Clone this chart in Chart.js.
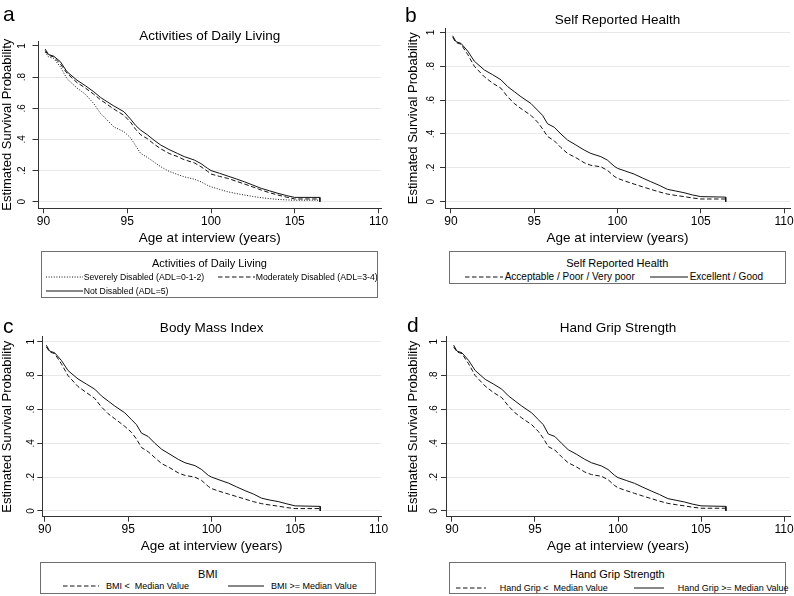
<!DOCTYPE html>
<html>
<head>
<meta charset="utf-8">
<script src="https://cdn.jsdelivr.net/npm/chart.js@4.4.1/dist/chart.umd.min.js"></script>
<style>
  body { margin: 0; background: #fff; font-family: "Liberation Sans", Arial, sans-serif; color: #000; }
  #page { position: relative; width: 794px; height: 596px; overflow: hidden; background: #fff; }
  canvas { position: absolute; }
  .letter { position: absolute; font-size: 21px; line-height: 21px; }
  .legend { position: absolute; border: 1px solid #6f6f6f; box-sizing: border-box; background: #fff; }
  .legend-title { position: absolute; left: 0; right: 0; text-align: center; font-size: 11px; line-height: 12px; }
  .legend-item { position: absolute; display: flex; align-items: center; height: 12px; white-space: pre; }
  .legend-item svg { display: block; }
</style>
</head>
<body>
<div id="page">
  <canvas id="chartA" width="397" height="252" style="left:0;top:0"></canvas>
  <canvas id="chartB" width="397" height="252" style="left:397px;top:0"></canvas>
  <canvas id="chartC" width="397" height="258" style="left:0;top:298px"></canvas>
  <canvas id="chartD" width="397" height="258" style="left:397px;top:298px"></canvas>
</div>
<script>
// ---- data ----
const xTicks = [90, 95, 100, 105, 110];
const yTicks = [0, 0.2, 0.4, 0.6, 0.8, 1];

// a: activities of daily living
const ageA = [90.1, 90.3, 90.6, 91.0, 91.4, 92.0, 92.5, 93.0, 93.4, 93.8, 94.2, 94.8, 95.2, 95.5, 95.8, 96.2, 96.6, 97.0, 97.5, 98.0, 98.4, 99.0, 99.4, 99.8, 100.0, 100.5, 101.0, 101.5, 102.0, 102.5, 103.0, 103.5, 104.0, 104.5, 105.0, 106.5, 106.5];
const adlSevere = [0.96, 0.93, 0.92, 0.867, 0.79, 0.73, 0.69, 0.63, 0.568, 0.525, 0.48, 0.45, 0.41, 0.36, 0.31, 0.285, 0.255, 0.225, 0.195, 0.175, 0.16, 0.145, 0.128, 0.105, 0.096, 0.08, 0.064, 0.053, 0.043, 0.034, 0.026, 0.02, 0.015, 0.012, 0.01, 0.01, 0.01];
const adlModerate = [0.97, 0.94, 0.93, 0.885, 0.825, 0.765, 0.73, 0.69, 0.655, 0.625, 0.595, 0.555, 0.51, 0.465, 0.43, 0.405, 0.37, 0.34, 0.31, 0.29, 0.27, 0.25, 0.225, 0.195, 0.178, 0.163, 0.15, 0.132, 0.114, 0.095, 0.075, 0.058, 0.043, 0.03, 0.018, 0.018, 0.018];
const adlNone = [0.98, 0.945, 0.935, 0.9, 0.835, 0.78, 0.745, 0.706, 0.67, 0.642, 0.615, 0.578, 0.53, 0.49, 0.46, 0.43, 0.395, 0.364, 0.335, 0.31, 0.29, 0.268, 0.245, 0.214, 0.2, 0.183, 0.165, 0.147, 0.128, 0.107, 0.086, 0.07, 0.054, 0.04, 0.028, 0.028, 0];

// b: self reported health
const ageB = [90.1, 90.3, 90.6, 91.0, 91.4, 92.0, 92.5, 93.0, 93.4, 93.8, 94.2, 94.8, 95.2, 95.5, 95.8, 96.2, 96.6, 97.0, 97.5, 98.0, 98.4, 99.0, 99.4, 99.8, 100.0, 100.5, 101.0, 101.5, 102.0, 102.5, 103.0, 103.5, 104.0, 104.5, 105.0, 106.5, 106.5];
const healthPoor = [0.97, 0.94, 0.93, 0.87, 0.8, 0.738, 0.7, 0.67, 0.62, 0.58, 0.55, 0.51, 0.47, 0.43, 0.385, 0.36, 0.32, 0.285, 0.26, 0.23, 0.215, 0.206, 0.185, 0.15, 0.138, 0.12, 0.104, 0.088, 0.073, 0.058, 0.045, 0.037, 0.03, 0.022, 0.016, 0.016, 0.016];
const healthGood = [0.98, 0.945, 0.935, 0.89, 0.83, 0.778, 0.75, 0.72, 0.68, 0.65, 0.62, 0.58, 0.54, 0.51, 0.46, 0.44, 0.4, 0.364, 0.335, 0.305, 0.285, 0.266, 0.245, 0.21, 0.197, 0.18, 0.163, 0.14, 0.118, 0.097, 0.073, 0.063, 0.053, 0.04, 0.03, 0.027, 0];

// c: body mass index
const ageC = [90.1, 90.3, 90.6, 91.0, 91.4, 92.0, 92.5, 93.0, 93.4, 93.8, 94.2, 94.8, 95.2, 95.5, 95.8, 96.2, 96.6, 97.0, 97.5, 98.0, 98.4, 99.0, 99.4, 99.8, 100.0, 100.5, 101.0, 101.5, 102.0, 102.5, 103.0, 103.5, 104.0, 104.5, 105.0, 106.5, 106.5];
const bmiLow = [0.97, 0.94, 0.93, 0.87, 0.8, 0.735, 0.7, 0.665, 0.615, 0.575, 0.545, 0.5, 0.465, 0.425, 0.375, 0.35, 0.315, 0.28, 0.255, 0.225, 0.21, 0.2, 0.18, 0.145, 0.132, 0.115, 0.1, 0.085, 0.07, 0.055, 0.043, 0.035, 0.028, 0.02, 0.014, 0.014, 0.014];
const bmiHigh = [0.98, 0.945, 0.935, 0.89, 0.83, 0.78, 0.75, 0.72, 0.68, 0.65, 0.62, 0.58, 0.54, 0.51, 0.46, 0.44, 0.4, 0.365, 0.335, 0.305, 0.285, 0.268, 0.245, 0.21, 0.2, 0.182, 0.165, 0.142, 0.12, 0.1, 0.075, 0.064, 0.055, 0.042, 0.03, 0.027, 0];

// d: hand grip strength
const ageD = [90.1, 90.3, 90.6, 91.0, 91.4, 92.0, 92.5, 93.0, 93.4, 93.8, 94.2, 94.8, 95.2, 95.5, 95.8, 96.2, 96.6, 97.0, 97.5, 98.0, 98.4, 99.0, 99.4, 99.8, 100.0, 100.5, 101.0, 101.5, 102.0, 102.5, 103.0, 103.5, 104.0, 104.5, 105.0, 106.5, 106.5];
const gripLow = [0.97, 0.94, 0.93, 0.87, 0.8, 0.738, 0.7, 0.67, 0.62, 0.58, 0.55, 0.51, 0.47, 0.43, 0.38, 0.36, 0.32, 0.285, 0.26, 0.23, 0.215, 0.205, 0.185, 0.15, 0.137, 0.12, 0.104, 0.088, 0.073, 0.058, 0.045, 0.037, 0.03, 0.022, 0.016, 0.016, 0.016];
const gripHigh = [0.98, 0.945, 0.935, 0.89, 0.83, 0.778, 0.75, 0.72, 0.68, 0.65, 0.62, 0.58, 0.54, 0.51, 0.455, 0.44, 0.4, 0.362, 0.335, 0.305, 0.285, 0.266, 0.245, 0.21, 0.197, 0.18, 0.163, 0.14, 0.118, 0.097, 0.073, 0.063, 0.053, 0.04, 0.03, 0.027, 0];

// ---- styling ----
const FONT = '"Liberation Sans", Arial, sans-serif';
const LINE = '#111';
const DASHES = { solid: [], dash: [4.5, 2.5], dot: [1, 1.6] };

function toPoints(ages, values) {
    return ages.map((a, i) => ({ x: a, y: values[i] }));
}

function yLabel(v) {
    if (v === 0) return '0';
    if (v === 1) return '1';
    return '.' + Math.round(v * 10);
}

// stata style y tick labels, turned to read bottom to top
const rotatedYLabels = {
    id: 'rotatedYLabels',
    afterDraw(chart, args, opts) {
        const s = chart.scales.y;
        const ctx = chart.ctx;
        ctx.save();
        ctx.fillStyle = '#000';
        ctx.font = '10px ' + FONT;
        ctx.textAlign = 'center';
        ctx.textBaseline = 'middle';
        s.ticks.forEach(t => {
            ctx.save();
            ctx.translate(chart.chartArea.left - opts.offset, s.getPixelForValue(t.value));
            ctx.rotate(-Math.PI / 2);
            ctx.fillText(yLabel(t.value), 0, 0);
            ctx.restore();
        });
        ctx.restore();
    }
};

function makePanel(cfg) {
    const ctx = document.getElementById(cfg.canvas).getContext('2d');
    const datasets = cfg.series.map(s => ({
        label: s.label,
        data: toPoints(s.ages, s.values),
        borderColor: LINE,
        borderWidth: 1,
        borderDash: DASHES[s.style],
        pointRadius: 0,
        fill: false,
        tension: 0
    }));

    return new Chart(ctx, {
        type: 'line',
        data: { datasets: datasets },
        plugins: [rotatedYLabels],
        options: {
            responsive: false,
            animation: false,
            devicePixelRatio: 1,
            layout: { padding: cfg.padding },
            plugins: {
                legend: { display: false },
                tooltip: { enabled: false },
                rotatedYLabels: { offset: cfg.yLabelOffset },
                title: {
                    display: true,
                    text: cfg.title,
                    color: '#000',
                    fullSize: false,
                    font: { family: FONT, size: 13.5, weight: 'normal', lineHeight: 0.6 },
                    padding: cfg.titlePad
                }
            },
            scales: {
                x: {
                    type: 'linear',
                    min: cfg.xMin,
                    max: cfg.xMax,
                    afterBuildTicks: s => { s.ticks = xTicks.map(v => ({ value: v })); },
                    afterFit: s => { s.height = cfg.xHeight; s.paddingLeft = 0; s.paddingRight = 0; },
                    ticks: { color: '#000', font: { family: FONT, size: 12 }, padding: 1, maxRotation: 0, autoSkip: false },
                    grid: { drawOnChartArea: false, drawTicks: true, tickLength: 5, tickColor: '#333' },
                    border: { color: '#333', width: 1 },
                    title: {
                        display: true,
                        text: 'Age at interview (years)',
                        color: '#000',
                        font: { family: FONT, size: 13.5 },
                        padding: { top: 0, bottom: 0 }
                    }
                },
                y: {
                    type: 'linear',
                    min: cfg.yMin,
                    max: cfg.yMax,
                    afterBuildTicks: s => { s.ticks = yTicks.map(v => ({ value: v })); },
                    afterFit: s => { s.width = cfg.yWidth; s.paddingTop = 0; s.paddingBottom = 0; },
                    ticks: { display: false },
                    grid: { color: '#e8e8e8', lineWidth: 1, drawTicks: true, tickLength: cfg.yTickLen, tickColor: '#333' },
                    border: { color: '#333', width: 1 },
                    title: {
                        display: true,
                        text: 'Estimated Survival Probability',
                        color: '#000',
                        font: { family: FONT, size: 13 },
                        padding: { top: cfg.yTitlePad, bottom: 0 }
                    }
                }
            }
        }
    });
}

function addLetter(text, left, top) {
    const d = document.createElement('div');
    d.className = 'letter';
    d.textContent = text;
    d.style.left = left + 'px';
    d.style.top = top + 'px';
    document.getElementById('page').appendChild(d);
}

function addLegend(box, title, series, layout) {
    const page = document.getElementById('page');
    const lg = document.createElement('div');
    lg.className = 'legend';
    lg.style.left = box.left + 'px';
    lg.style.top = box.top + 'px';
    lg.style.width = box.width + 'px';
    lg.style.height = box.height + 'px';

    const t = document.createElement('div');
    t.className = 'legend-title';
    t.textContent = title;
    t.style.top = (layout.titleY - 6) + 'px';
    lg.appendChild(t);

    series.forEach((s, i) => {
        const pos = layout.items[i];
        const item = document.createElement('div');
        item.className = 'legend-item';
        item.style.left = pos[0] + 'px';
        item.style.top = (pos[1] - 6) + 'px';
        item.style.fontSize = layout.fontSize + 'px';
        const dash = DASHES[s.style].join(' ');
        item.innerHTML =
            '<svg width="' + layout.sample + '" height="4"><line x1="0" y1="2" x2="' + layout.sample +
            '" y2="2" stroke="' + LINE + '" stroke-width="1" stroke-dasharray="' + (dash || 'none') + '"/></svg>';
        const span = document.createElement('span');
        span.textContent = s.label;
        span.style.marginLeft = layout.gap + 'px';
        item.appendChild(span);
        lg.appendChild(item);
    });
    page.appendChild(lg);
}

// ---- panels ----
const seriesA = [
    { label: 'Severely Disabled (ADL=0-1-2)', ages: ageA, values: adlSevere, style: 'dot' },
    { label: 'Moderately Disabled (ADL=3-4)', ages: ageA, values: adlModerate, style: 'dash' },
    { label: 'Not Disabled (ADL=5)', ages: ageA, values: adlNone, style: 'solid' }
];
const seriesB = [
    { label: 'Acceptable / Poor / Very poor', ages: ageB, values: healthPoor, style: 'dash' },
    { label: 'Excellent / Good', ages: ageB, values: healthGood, style: 'solid' }
];
const seriesC = [
    { label: 'BMI <  Median Value', ages: ageC, values: bmiLow, style: 'dash' },
    { label: 'BMI >= Median Value', ages: ageC, values: bmiHigh, style: 'solid' }
];
const seriesD = [
    { label: 'Hand Grip <  Median Value', ages: ageD, values: gripLow, style: 'dash' },
    { label: 'Hand Grip >= Median Value', ages: ageD, values: gripHigh, style: 'solid' }
];

makePanel({
    canvas: 'chartA', title: 'Activities of Daily Living', series: seriesA,
    xMin: 89.7, xMax: 110.15, yMin: -0.042, yMax: 1.032,
    padding: { left: 0, right: 16, top: 0, bottom: 5.4 },
    titlePad: { top: 32.45, bottom: 0.45 },
    xHeight: 38.3, yWidth: 38.5, yTitlePad: 0, yLabelOffset: 16, yTickLen: 6
});
makePanel({
    canvas: 'chartB', title: 'Self Reported Health', series: seriesB,
    xMin: 89.64, xMax: 110.36, yMin: -0.039, yMax: 1.024,
    padding: { left: 0, right: 4, top: 0, bottom: 5.4 },
    titlePad: { top: 16.45, bottom: 3.75 },
    xHeight: 38.3, yWidth: 48, yTitlePad: 8.8, yLabelOffset: 13.5, yTickLen: 5
});
makePanel({
    canvas: 'chartC', title: 'Body Mass Index', series: seriesC,
    xMin: 89.86, xMax: 110.14, yMin: -0.034, yMax: 1.03,
    padding: { left: 0, right: 16, top: 0, bottom: 1.2 },
    titlePad: { top: 25.95, bottom: 4.65 },
    xHeight: 38.1, yWidth: 42.3, yTitlePad: 0, yLabelOffset: 11.5, yTickLen: 5
});
makePanel({
    canvas: 'chartD', title: 'Hand Grip Strength', series: seriesD,
    xMin: 89.64, xMax: 110.36, yMin: -0.034, yMax: 1.03,
    padding: { left: 0, right: 4, top: 0, bottom: 1.2 },
    titlePad: { top: 25.95, bottom: 4.65 },
    xHeight: 38.1, yWidth: 49, yTitlePad: 8.8, yLabelOffset: 11.5, yTickLen: 5
});

addLetter('a', 3, 3);
addLetter('b', 405, 4);
addLetter('c', 3, 315);
addLetter('d', 407, 314);

addLegend({ left: 40.7, top: 250.7, width: 337.6, height: 47 }, 'Activities of Daily Living', seriesA,
    { titleY: 11.3, fontSize: 8.7, sample: 37, gap: 1, items: [[4, 25.3], [176, 25.3], [4, 39.3]] });
addLegend({ left: 448.7, top: 250.7, width: 337.3, height: 33.3 }, 'Self Reported Health', seriesB,
    { titleY: 11.3, fontSize: 10, sample: 38, gap: 2, items: [[15, 25.3], [200, 25.3]] });
addLegend({ left: 40, top: 561.5, width: 335.7, height: 32 }, 'BMI', seriesC,
    { titleY: 11, fontSize: 9, sample: 36, gap: 7, items: [[22, 23.5], [187, 23.5]] });
addLegend({ left: 448.7, top: 562, width: 337.3, height: 32 }, 'Hand Grip Strength', seriesD,
    { titleY: 11, fontSize: 9, sample: 30, gap: 14, items: [[6, 25], [184, 25]] });
</script>
</body>
</html>
